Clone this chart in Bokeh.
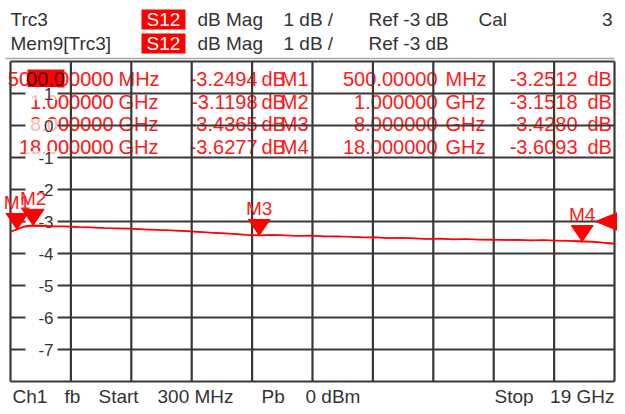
from bokeh.plotting import figure
from bokeh.models import Range1d
from bokeh.core.properties import value
from bokeh.embed import file_html
from bokeh.resources import INLINE

# ---------------- data ----------------
start_ghz = 0.3
stop_ghz = 19.0
n_xdiv = 10
ref_db = -3.0
db_per_div = 1.0
top_db = 2.0
bottom_db = -8.0
y_grid = [2, 1, 0, -1, -2, -3, -4, -5, -6, -7, -8]
y_tick_labels = [1, 0, -1, -2, -3, -4, -5, -6, -7]

freq = [0.3, 0.4, 0.5, 0.6, 0.7, 0.8, 1.0, 1.3, 1.6, 2.0, 2.4, 2.8, 3.2, 3.6, 4.0, 4.4,
        4.8, 5.2, 5.6, 6.0, 6.4, 6.8, 7.2, 7.6, 8.0, 8.4, 8.8, 9.2, 9.6, 10.0, 10.4, 10.8,
        11.2, 11.6, 12.0, 12.4, 12.8, 13.2, 13.6, 14.0, 14.4, 14.8, 15.2, 15.6, 16.0, 16.4,
        16.8, 17.2, 17.6, 18.0, 18.3, 18.6, 19.0]
trc3_db = [-3.30, -3.28, -3.25, -3.20, -3.16, -3.13, -3.12, -3.13, -3.14, -3.15, -3.17,
           -3.18, -3.20, -3.21, -3.22, -3.24, -3.26, -3.27, -3.29, -3.31, -3.34, -3.37,
           -3.39, -3.42, -3.44, -3.42, -3.43, -3.45, -3.44, -3.47, -3.46, -3.48, -3.50,
           -3.49, -3.52, -3.51, -3.53, -3.55, -3.53, -3.56, -3.55, -3.57, -3.56, -3.58,
           -3.57, -3.59, -3.58, -3.60, -3.61, -3.63, -3.64, -3.66, -3.70]
mem9_db = [-3.31, -3.29, -3.25, -3.21, -3.18, -3.16, -3.15, -3.15, -3.16, -3.16, -3.18,
           -3.19, -3.21, -3.22, -3.23, -3.25, -3.26, -3.28, -3.30, -3.32, -3.34, -3.36,
           -3.38, -3.41, -3.43, -3.42, -3.44, -3.44, -3.45, -3.46, -3.47, -3.47, -3.49,
           -3.50, -3.51, -3.52, -3.52, -3.54, -3.54, -3.55, -3.56, -3.56, -3.57, -3.57,
           -3.58, -3.58, -3.59, -3.59, -3.60, -3.61, -3.62, -3.65, -3.68]

marker_names = ["M1", "M2", "M3", "M4"]
marker_ghz = [0.5, 1.0, 8.0, 18.0]
marker_units = ["MHz", "GHz", "GHz", "GHz"]
trc3_stim_text = ["500.000000", "1.000000", "8.000000", "18.000000"]
trc3_marker_db = [-3.2494, -3.1198, -3.4365, -3.6277]
mem9_stim_text = ["500.00000", "1.000000", "8.000000", "18.000000"]
mem9_marker_db = [-3.2512, -3.1518, -3.4280, -3.6093]

# ---------------- layout (pixels) ----------------
W, H = 617, 406
L, R, T, B = 10, 614, 61, 381
gx = (stop_ghz - start_ghz) / (R - L)      # GHz per pixel
gy = (top_db - bottom_db) / (B - T)        # dB per pixel

FONT = value("Liberation Sans")
RED = "#ff1a1a"
DARK = "#333333"

p = figure(width=W, height=H,
           x_range=Range1d(start_ghz - L * gx, stop_ghz + (W - R) * gx),
           y_range=Range1d(bottom_db - (H - B) * gy, top_db + T * gy),
           min_border=0, toolbar_location=None, output_backend="svg",
           x_axis_location=None, y_axis_location=None, outline_line_color=None,
           background_fill_color="white", border_fill_color="white")
p.grid.visible = False
p.extra_x_ranges = {"px": Range1d(0, W)}
p.extra_y_ranges = {"px": Range1d(H, 0)}

def ptext(x, y, t, size="20px", color=DARK, align="left", alpha=1.0):
    p.text(x=x, y=y, text=t, x_range_name="px", y_range_name="px",
           text_font=FONT, text_font_size=size, text_color=color, text_alpha=alpha,
           text_align=align, text_baseline="middle")

# ---------------- header ----------------
hdr_rows = [19, 43]
p.quad(left=[141, 141], right=[185, 185], top=[9, 33], bottom=[29, 53],
       x_range_name="px", y_range_name="px", fill_color="#ff0000", line_color=None)
ptext([163, 163], hdr_rows, ["S12", "S12"], size="19px", color="white", align="center")
ptext([10, 10], hdr_rows, ["Trc3", "Mem9[Trc3]"], size="19px")
ptext([197, 197], hdr_rows, ["dB Mag"] * 2, size="19px")
ptext([283, 283], hdr_rows, ["%g dB /" % db_per_div] * 2, size="19px")
ptext([368, 368], hdr_rows, ["Ref %g dB" % ref_db] * 2, size="19px")
ptext([478], [hdr_rows[0]], ["Cal"], size="19px")
ptext([612], [hdr_rows[0]], ["3"], size="19px", align="right")
p.segment(x0=[5], y0=[58], x1=[614], y1=[58], x_range_name="px", y_range_name="px",
          line_color="#a8a8a8", line_width=1.5)

# ---------------- marker tables (drawn under grid) ----------------
rows = [78, 101, 123, 146]
ptext([113] * 4, rows, trc3_stim_text, color=RED, align="right")
ptext([118] * 4, rows, marker_units, color=RED)
ptext([257] * 4, rows, ["%.4f" % v for v in trc3_marker_db], color=RED, align="right")
ptext([261] * 4, rows, ["dB"] * 4, color=RED)
ptext([308] * 4, rows, marker_names, color=RED, align="right")
ptext([437] * 4, rows, mem9_stim_text, color=RED, align="right")
ptext([445] * 4, rows, marker_units, color=RED)
ptext([577] * 4, rows, ["%.4f" % v for v in mem9_marker_db], color=RED, align="right")
ptext([587] * 4, rows, ["dB"] * 4, color=RED)
# active-field highlight
p.quad(left=[27], right=[64], top=[69], bottom=[87], x_range_name="px", y_range_name="px",
       fill_color="#ff0000", line_color=None)
ptext([45], [78], ["00.0"], color="#3a0a0a", align="center")

# ---------------- grid ----------------
x_grid = [start_ghz + i * (stop_ghz - start_ghz) / n_xdiv for i in range(n_xdiv + 1)]
p.segment(x0=x_grid, x1=x_grid, y0=[bottom_db] * len(x_grid), y1=[top_db] * len(x_grid),
          line_color="#383838", line_width=2.2)
p.segment(x0=[start_ghz] * len(y_grid), x1=[stop_ghz] * len(y_grid), y0=y_grid, y1=y_grid,
          line_color="#383838", line_width=2.2)

# y labels with white gaps in the grid lines
p.rect(x=[41] * len(y_tick_labels), y=y_tick_labels, width=32, height=13,
       width_units="screen", height_units="screen", x_range_name="px",
       fill_color="white", line_color=None)
p.text(x=[53] * len(y_tick_labels), y=y_tick_labels, text=["%d" % v for v in y_tick_labels],
       x_range_name="px", text_font=FONT, text_font_size="17px", text_color=DARK,
       text_align="right", text_baseline="middle")

# faint repeat of the left stimulus column over the label gaps
ptext([113] * 4, rows, trc3_stim_text, color=RED, align="right", alpha=0.35)

# ---------------- traces ----------------
p.line(freq, mem9_db, line_color="#ff0000", line_width=1.3, line_alpha=0.85)
p.line(freq, trc3_db, line_color="#ff0000", line_width=1.5)

# ---------------- markers ----------------
tw, th = 22 * gx, 16 * gy
xs = [[f - tw / 2, f + tw / 2, f] for f in marker_ghz]
ys = [[v + th, v + th, v] for v in trc3_marker_db]
p.patches(xs, ys, fill_color="#ff0000", line_color="#ff0000", line_width=1)
p.text(x=marker_ghz, y=[v + 27 * gy for v in trc3_marker_db], text=marker_names,
       text_font=FONT, text_font_size="19px", text_color=RED, text_align="center",
       text_baseline="middle")

# reference level arrow on the right edge
p.patches([[R - 19, R + 3, R + 3]], [[ref_db, ref_db + 9 * gy, ref_db - 9 * gy]],
          x_range_name="px", fill_color="#ff0000", line_color="#ff0000")

# ---------------- footer ----------------
fy = [396]
ptext([12], fy, ["Ch1"], size="19px")
ptext([64], fy, ["fb"], size="19px")
ptext([98], fy, ["Start"], size="19px")
ptext([157], fy, ["%d MHz" % round(start_ghz * 1000)], size="19px")
ptext([261], fy, ["Pb"], size="19px")
ptext([305], fy, ["0 dBm"], size="19px")
ptext([494], fy, ["Stop"], size="19px")
ptext([614], fy, ["%g GHz" % stop_ghz], size="19px", align="right")

open("out.html", "w").write(file_html(p, INLINE))
